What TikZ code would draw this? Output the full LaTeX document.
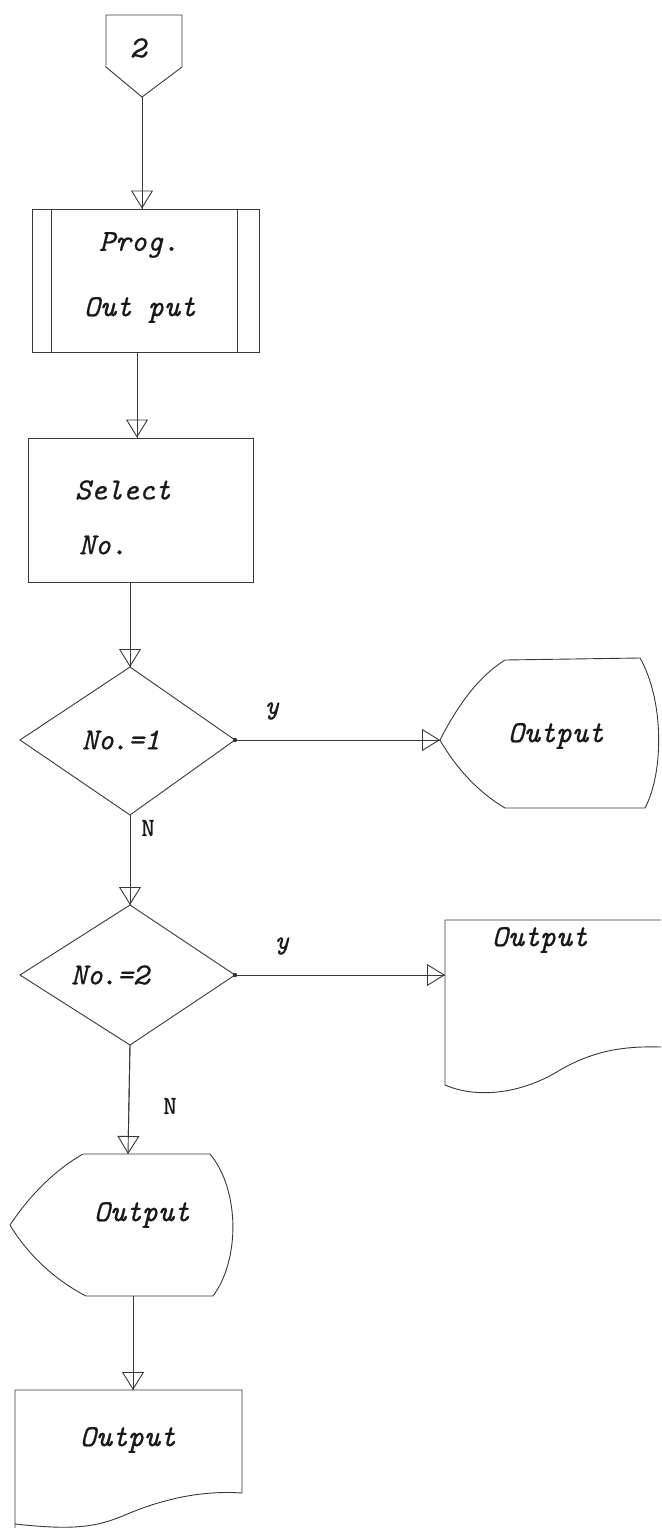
\documentclass[tikz,border=0pt]{standalone}
\usepackage{fontspec}
\setmonofont{Latin Modern Mono}[FakeBold=0.7]
\usetikzlibrary{arrows.meta}
\begin{document}
\begin{tikzpicture}[x=1pt,y=-1pt,
  ln/.style={draw=black!78, line width=0.9pt},
  tipar/.style={draw=black!78, line width=0.9pt, -{Triangle[open,width=22pt,length=18pt]}},
  lbl/.style={font=\fontsize{30.5}{34}\selectfont\ttfamily\itshape, text=black!90, inner sep=0pt},
  yl/.style={font=\fontsize{26}{28}\selectfont\ttfamily\itshape, text=black!90, inner sep=0pt},
  nl/.style={font=\fontsize{26}{28}\selectfont\ttfamily, text=black!90, inner sep=0pt},
  boxn/.style={ln, rectangle, inner sep=0pt}]
\useasboundingbox (0,0) rectangle (661,1528);
\fill[white] (0,0) rectangle (661,1528);

% off-page connector
\draw[ln] (106,15) -- (182,15) -- (182,67) -- (142,97) -- (106,67) -- cycle;
\node[lbl] (offt) at (138,48) {2};
\coordinate (offtip) at (142,97);

% predefined process
\node[boxn, minimum width=227pt, minimum height=143pt] (prog) at (145.5,280.5) {};
\draw[ln] ([xshift=20pt]prog.north west) -- ([xshift=20pt]prog.south west);
\draw[ln] ([xshift=-22pt]prog.north east) -- ([xshift=-22pt]prog.south east);
\node[lbl] (progt1) at (139,245) {Prog.};
\node[lbl] (progt2) at (140,310) {Out put};

% select box
\node[boxn, minimum width=225pt, minimum height=144pt] (sel) at (140.5,510) {};
\node[lbl] (selt1) at (123,490) {Select};
\node[lbl] (selt2) at (103,545) {No.};

% diamond 1
\coordinate (d1n) at (130,667);
\coordinate (d1e) at (235,740);
\coordinate (d1s) at (130,815);
\coordinate (d1w) at (20,740);
\draw[ln] (d1n) -- (d1e) -- (d1s) -- (d1w) -- cycle;
\fill[black!80] (d1e) circle (2.2pt);
\node[lbl] (d1t) at (121,740) {No\kern-2pt .=1};
\node[yl] (y1) at (272,711) {y};
\node[nl] (n1) at (148,828) {N};

% display 1
\coordinate (o1tip) at (440,740);
\draw[ln] (o1tip) .. controls (458,705) and (478,677) .. (505,660) -- (640,658)
  .. controls (664,700) and (664,772) .. (645,808) -- (505,808)
  .. controls (478,792) and (456,768) .. (o1tip);
\node[lbl] (o1t) at (556,736) {Output};

% diamond 2
\coordinate (d2n) at (130,905);
\coordinate (d2e) at (235,975);
\coordinate (d2s) at (130,1045);
\coordinate (d2w) at (20,975);
\draw[ln] (d2n) -- (d2e) -- (d2s) -- (d2w) -- cycle;
\fill[black!80] (d2e) circle (2.2pt);
\node[lbl] (d2t) at (110,975) {No\kern-2pt .=2};
\node[yl] (y2) at (282,946) {y};
\node[nl] (n2) at (170,1106) {N};

% document 1
\coordinate (doc1w) at (445,975);
\draw[ln] (661,920) -- (445,920) -- (445,1085)
  .. controls (480,1100) and (525,1092) .. (560,1070)
  .. controls (595,1050) and (625,1046) .. (661,1047);
\node[lbl] (doc1t) at (540,940) {Output};

% display 2
\coordinate (o2n) at (128,1154);
\draw[ln] (10,1225) .. controls (30,1195) and (55,1170) .. (83,1154) -- (210,1154)
  .. controls (240,1190) and (240,1260) .. (213,1296) -- (86,1296)
  .. controls (55,1280) and (28,1255) .. (10,1225);
\coordinate (o2s) at (133,1296);
\node[lbl] (o2t) at (142,1215) {Output};

% document 2
\coordinate (doc2n) at (133,1390);
\draw[ln] (15,1528) -- (15,1390) -- (242,1390) -- (242,1493)
  .. controls (200,1490) and (160,1500) .. (125,1515)
  .. controls (95,1528) and (70,1530) .. (15,1524);
\node[lbl] (doc2t) at (128,1440) {Output};

% connectors
\draw[ln] (offtip) -- (offtip |- prog.north);
\draw[tipar] (offtip) -- (offtip |- prog.north);
\coordinate (p2s) at ([xshift=-8.5pt]prog.south);
\draw[ln] (p2s) -- (p2s |- sel.north);
\draw[tipar] (p2s) -- (p2s |- sel.north);
\coordinate (s2s) at ([xshift=-10.5pt]sel.south);
\draw[ln] (s2s) -- (d1n);
\draw[tipar] (s2s) -- (d1n);
\draw[ln] (d1e) -- (o1tip);
\draw[tipar] (d1e) -- (o1tip);
\draw[ln] (d1s) -- (d2n);
\draw[tipar] (d1s) -- (d2n);
\draw[ln] (d2e) -- (doc1w);
\draw[tipar] (d2e) -- (doc1w);
\draw[ln] (d2s) -- (o2n);
\draw[tipar] (d2s) -- (o2n);
\draw[ln] (o2s) -- (doc2n);
\draw[tipar] (o2s) -- (doc2n);
\end{tikzpicture}
\end{document}
